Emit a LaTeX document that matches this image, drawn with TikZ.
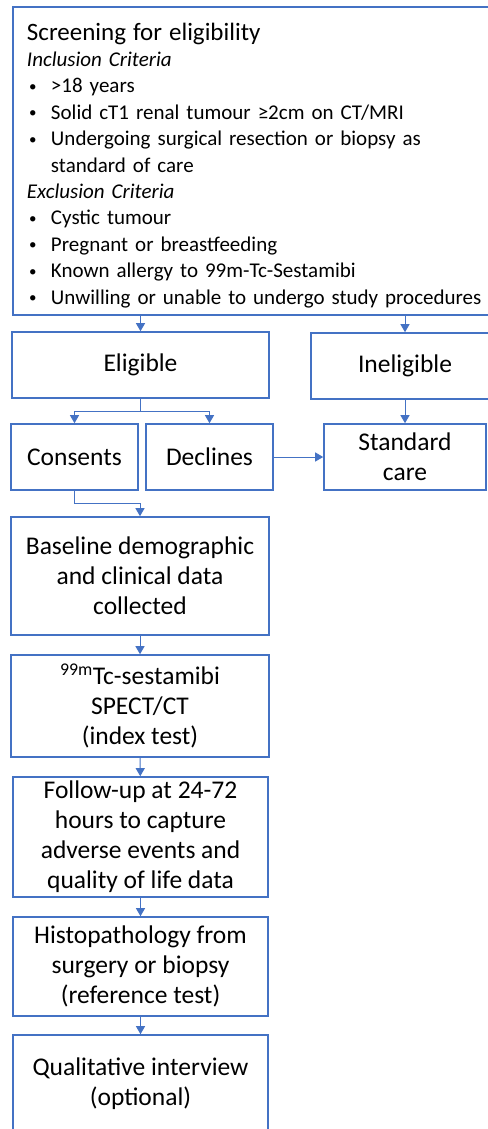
\documentclass[tikz,border=0pt]{standalone}
\usepackage{fontspec}
\setmainfont{Carlito}
\usetikzlibrary{arrows.meta}
\definecolor{boxblue}{HTML}{4472C4}
\newcommand{\critem}[1]{\makebox[24pt][l]{\hspace{2pt}\raisebox{1.5pt}{\fontsize{15}{15}\selectfont\textbullet}}#1}

\begin{document}
\begin{tikzpicture}[x=1pt,y=-1pt,
  box/.style={draw=boxblue,line width=1.6pt,align=center,inner sep=0pt,font=\fontsize{25.5}{30}\selectfont},
  link/.style={draw=boxblue,line width=1pt,-{Triangle[width=9pt,length=8pt]}}]
\useasboundingbox[fill=white] (0,0) rectangle (487,1129);
\node[box,align=left,text width=470pt,inner xsep=14pt,minimum height=308pt,font=\fontsize{21}{26.4}\selectfont] (screen) at (262,161) {\rule{0pt}{26pt}{\fontsize{25}{27}\selectfont Screening for eligibility}\\
\textit{Inclusion Criteria}\\ \critem{>18 years}\\ \critem{Solid cT1 renal tumour ≥2cm on CT/MRI}\\
\critem{Undergoing surgical resection or biopsy as}\\ \hspace*{24pt}standard of care\\
\textit{Exclusion Criteria}\\ \critem{Cystic tumour}\\ \critem{Pregnant or breastfeeding}\\
\critem{Known allergy to 99m-Tc-Sestamibi}\\ \critem{Unwilling or unable to undergo study procedures}};
\node[box,minimum width=257pt,minimum height=66pt] (eligible) at (140.5,365) {Eligible};
\node[box,minimum width=188pt,minimum height=66pt] (ineligible) at (405,366) {Ineligible};
\node[box,minimum width=127pt,minimum height=66pt] (consents) at (74.5,457) {Consents};
\node[box,minimum width=127pt,minimum height=66pt] (declines) at (209.5,457) {Declines};
\node[box,minimum width=162pt,minimum height=66pt] (standard) at (405,457) {Standard\\care};
\node[box,minimum width=258pt,minimum height=118pt] (baseline) at (140,576) {Baseline demographic\\and clinical data\\collected};
\node[box,minimum width=258pt,minimum height=102pt] (spect) at (140,706) {\textsuperscript{99m}Tc-sestamibi\\SPECT/CT\\(index test)};
\node[box,minimum width=255pt,minimum height=120pt] (followup) at (140.5,837) {Follow-up at 24-72\\hours to capture\\adverse events and\\quality of life data};
\node[box,minimum width=255pt,minimum height=99pt] (histo) at (140.5,966.5) {Histopathology from\\surgery or biopsy\\(reference test)};
\node[box,minimum width=255pt,minimum height=97pt] (qual) at (140.5,1083.5) {Qualitative interview\\(optional)};
\draw[link] (eligible.north |- screen.south)--(eligible.north); \draw[link] (ineligible.north |- screen.south)--(ineligible.north);
\draw[link] (eligible.south)--++(0,13)-|(consents.north); \draw[link] (eligible.south)--++(0,13)-|(declines.north);
\draw[link] (declines.east)--(standard.west); \draw[link] (ineligible.south)--(standard.north);
\draw[link] (consents.south)--++(0,13)-|(baseline.north);
\draw[link] (baseline)--(spect); \draw[link] (spect)--(followup); \draw[link] (followup)--(histo); \draw[link] (histo)--(qual);
\end{tikzpicture}
\end{document}
